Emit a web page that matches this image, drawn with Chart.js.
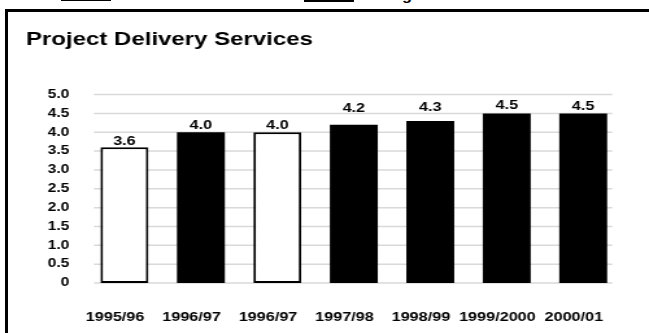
<!DOCTYPE html>
<html>
<head>
<meta charset="utf-8">
<script src="https://cdn.jsdelivr.net/npm/chart.js@4.4.0/dist/chart.umd.min.js"></script>
<style>
html, body { margin: 0; padding: 0; background: #fff; }
body { width: 649px; height: 333px; position: relative; overflow: hidden; font-family: "Liberation Sans", Arial, sans-serif; }
#frame { position: absolute; left: 5px; top: 9px; width: 700px; height: 400px; border: 3px solid #000; }
#wrap { position: absolute; left: 0; top: 0; width: 500px; height: 333px; transform: scaleX(1.298); transform-origin: 0 0; }
.key { position: absolute; box-sizing: border-box; }
#key1 { left: 61px; top: -10px; width: 50px; height: 11px; border: 2px solid #000; background: #fff; }
#key2 { left: 304px; top: -8px; width: 50px; height: 10px; background: #000; }
#keytext { position: absolute; left: 379px; top: -11px; font-size: 12.5px; line-height: 14px; font-weight: bold; transform: scaleX(1.298); transform-origin: 0 0; white-space: nowrap; }
#bl { display: inline-block; width: 0; height: 0; }
</style>
</head>
<body>
<div class="key" id="key1"></div>
<div class="key" id="key2"></div>
<div id="keytext"><span id="tar">Tar</span>get<span id="bl"></span></div>
<div id="frame"></div>
<div id="wrap"><canvas id="chart" width="500" height="333"></canvas></div>
<script>
const labels = ["1995/96", "1996/97", "1996/97", "1997/98", "1998/99", "1999/2000", "2000/01"];
const actual = [3.6, null, 4.0, null, null, null, null];
const target = [null, 4.0, null, 4.2, 4.3, 4.5, 4.5];

// the legend above the frame is cut off: only the bottom of the "g" shows
const keyText = document.getElementById("keytext");
keyText.style.top = (-0.5 - document.getElementById("bl").offsetTop) + "px";
keyText.style.left = (403 - document.getElementById("tar").offsetWidth * 1.298) + "px";

Chart.defaults.font.family = "'Liberation Sans', Arial, sans-serif";
Chart.defaults.font.weight = "bold";
Chart.defaults.color = "#000000";

// light grey lines, a bit shorter than the plot area like the original
const gridLines = {
	id: "gridLines",
	beforeDatasetsDraw(chart) {
		const { ctx, chartArea } = chart;
		const y = chart.scales.y;
		ctx.save();
		ctx.strokeStyle = "#d9d9d9";
		ctx.lineWidth = 1.5;
		y.ticks.forEach(t => {
			const py = y.getPixelForValue(t.value);
			ctx.beginPath();
			ctx.moveTo(chartArea.left + 6, py);
			ctx.lineTo(chartArea.right - 7, py);
			ctx.stroke();
		});
		ctx.restore();
	}
};

// gap between bar top and its value label, per category (pixels)
const labelGap = [2, 3, 3, 13, 10, 4, 3];

const barLabels = {
	id: "barLabels",
	afterDatasetsDraw(chart) {
		const ctx = chart.ctx;
		ctx.save();
		ctx.font = "bold 12.5px 'Liberation Sans', Arial, sans-serif";
		ctx.fillStyle = "#000";
		ctx.textAlign = "center";
		ctx.textBaseline = "alphabetic";
		chart.data.datasets.forEach((ds, i) => {
			chart.getDatasetMeta(i).data.forEach((bar, j) => {
				const v = ds.data[j];
				if (v === null) return;
				ctx.fillText(v.toFixed(1), bar.x, bar.y - labelGap[j]);
			});
		});
		ctx.restore();
	}
};

new Chart(document.getElementById("chart"), {
	type: "bar",
	data: {
		labels: labels,
		datasets: [
			{ label: "Actual", data: actual, backgroundColor: "#ffffff", borderColor: "#000000", borderWidth: 2, borderSkipped: false },
			{ label: "Target", data: target, backgroundColor: "#000000", borderWidth: 0 }
		]
	},
	options: {
		responsive: false,
		animation: false,
		layout: { padding: { left: 20, right: 15.4, top: 0, bottom: 0 } },
		datasets: { bar: { grouped: false, categoryPercentage: 1, barPercentage: 0.627 } },
		plugins: {
			legend: { display: false },
			tooltip: { enabled: false },
			title: {
				display: true,
				text: "Project Delivery Services",
				align: "start",
				font: { size: 18.5, weight: "bold" },
				color: "#000",
				padding: { top: 29, bottom: 43.4 }
			}
		},
		scales: {
			x: {
				grid: { display: false, drawTicks: false },
				border: { display: false },
				ticks: { padding: 27, labelOffset: -7.2, font: { size: 12.5 }, maxRotation: 0, autoSkip: false },
				afterFit: scale => { scale.height = 50; }
			},
			y: {
				min: 0,
				max: 5,
				grid: { display: false, drawTicks: false },
				border: { display: false },
				ticks: {
					stepSize: 0.5,
					padding: 13,
					font: { size: 12 },
					callback: v => v === 0 ? "0" : v.toFixed(1)
				},
				afterFit: scale => { scale.width = 46.4; }
			}
		}
	},
	plugins: [gridLines, barLabels]
});
</script>
</body>
</html>
